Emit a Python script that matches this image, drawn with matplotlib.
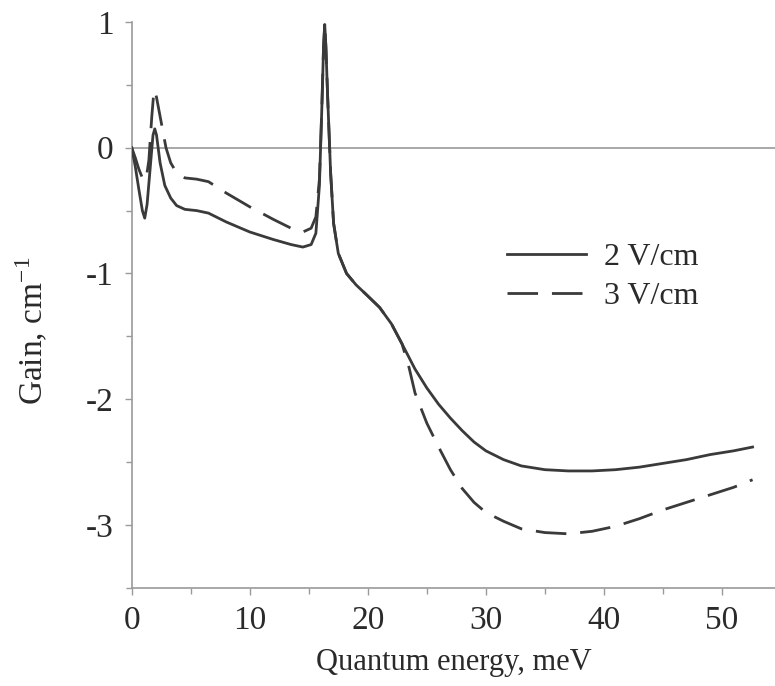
import matplotlib
matplotlib.use("Agg")
import matplotlib.pyplot as plt
from matplotlib.ticker import MultipleLocator

# DATA
energy_2 = [0, 0.3, 0.6, 0.9, 1.1, 1.3, 1.6, 1.8, 1.95, 2.1, 2.4, 2.8, 3.3, 3.8, 4.5, 5.5, 6.5,
            8, 10, 12, 13.5, 14.5, 15.2, 15.6, 15.9, 16.1, 16.25, 16.35, 16.45, 16.6, 16.85,
            17.1, 17.5, 18.2, 19, 19.9, 21, 22, 22.9, 24, 25, 26, 27, 28, 29, 30, 31.5, 33,
            35, 37, 39, 41, 43, 45, 47, 49, 51, 52.6]
gain_2 = [0, -0.15, -0.33, -0.50, -0.56, -0.45, -0.12, 0.10, 0.15, 0.10, -0.12, -0.30, -0.40,
          -0.46, -0.49, -0.50, -0.52, -0.59, -0.67, -0.73, -0.77, -0.79, -0.77, -0.68,
          -0.30, 0.30, 0.80, 0.98, 0.80, 0.40, -0.20, -0.60, -0.84, -1.00, -1.09, -1.17,
          -1.27, -1.40, -1.56, -1.76, -1.91, -2.04, -2.15, -2.25, -2.34, -2.41, -2.48,
          -2.53, -2.56, -2.57, -2.57, -2.56, -2.54, -2.51, -2.48, -2.44, -2.41, -2.38]

energy_3 = [0, 0.3, 0.6, 0.9, 1.2, 1.45, 1.7, 1.85, 1.95, 2.1, 2.5, 2.9, 3.3, 3.8, 4.5, 5.5,
            6.5, 8, 10, 12, 13.5, 14.5, 15.2, 15.6, 15.9, 16.1, 16.25, 16.35, 16.45, 16.6,
            16.85, 17.1, 17.5, 18.2, 19, 19.9, 21, 22, 22.9, 23.5, 24, 25, 26, 27, 28, 29,
            30, 31.5, 33, 35, 37, 39, 41, 43, 45, 47, 49, 51, 52.6]
gain_3 = [0, -0.08, -0.17, -0.24, -0.26, -0.10, 0.25, 0.42, 0.46, 0.40, 0.20, 0.0, -0.12,
          -0.20, -0.24, -0.25, -0.27, -0.36, -0.47, -0.57, -0.64, -0.67, -0.64, -0.55,
          -0.25, 0.30, 0.80, 0.98, 0.80, 0.40, -0.20, -0.60, -0.84, -1.00, -1.09, -1.17,
          -1.27, -1.40, -1.56, -1.75, -1.95, -2.19, -2.38, -2.56, -2.71, -2.82, -2.90,
          -2.97, -3.03, -3.06, -3.07, -3.05, -3.01, -2.95, -2.88, -2.82, -2.76, -2.70, -2.64]

labels = ["2 V/cm", "3 V/cm"]

plt.rcParams["font.family"] = ["Liberation Serif", "DejaVu Serif"]
plt.rcParams["mathtext.fontset"] = "stix"
plt.rcParams["axes.unicode_minus"] = False

fig = plt.figure(figsize=(7.75, 6.86), dpi=100)
ax = fig.add_axes([0.170, 0.143, 0.830, 0.825])

line_col = "#3a3a3a"
axis_col = "#9a9a9a"
text_col = "#2a2a2a"

ax.axhline(0, color=axis_col, lw=1.2, zorder=1)
ax.plot(energy_2, gain_2, color=line_col, lw=2.0, label=labels[0], zorder=3)
ax.plot(energy_3, gain_3, color=line_col, lw=2.0, dashes=(11, 5), label=labels[1], zorder=2)

ax.set_xlim(0, 54.5)
ax.set_ylim(-3.5, 1)
ax.xaxis.set_major_locator(MultipleLocator(10))
ax.xaxis.set_minor_locator(MultipleLocator(5))
ax.yaxis.set_major_locator(MultipleLocator(1))
ax.yaxis.set_minor_locator(MultipleLocator(0.5))

for s in ["top", "right"]:
    ax.spines[s].set_visible(False)
for s in ["left", "bottom"]:
    ax.spines[s].set_color(axis_col)
    ax.spines[s].set_linewidth(1.2)

ax.tick_params(which="both", direction="out", color=axis_col, width=1.0, length=5,
               labelsize=24, labelcolor=text_col, pad=8)
ax.tick_params(which="minor", length=4)

ax.set_xlabel("Quantum energy, meV", fontsize=22, color=text_col, labelpad=8)
ax.set_ylabel("Gain, cm$^{\\mathregular{-1}}$", fontsize=24, color=text_col)
ax.yaxis.set_label_coords(-0.128, 0.455)

ax.legend(loc="upper left", bbox_to_anchor=(0.538, 0.66), frameon=False, fontsize=23,
          handlelength=2.5, handletextpad=0.55, labelspacing=0.3, labelcolor=text_col)

fig.savefig("out.png", dpi=100)
